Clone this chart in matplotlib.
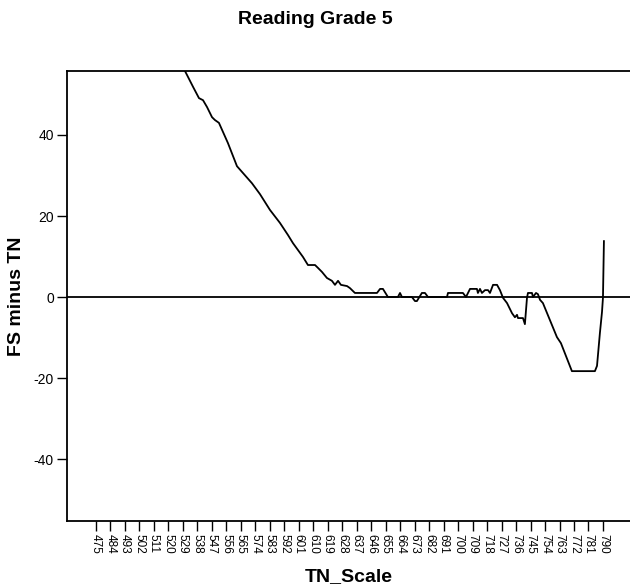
import matplotlib
matplotlib.use("Agg")
import matplotlib.pyplot as plt
import numpy as np

plt.rcParams['font.family'] = ['Liberation Sans', 'DejaVu Sans']

# Data
tn_scale = [528.0, 530.3, 535.3, 539.0, 541.5, 544.0, 547.1, 548.9, 551.4, 557.0, 562.6,
            565.7, 571.9, 576.9, 583.1, 589.3, 594.3, 597.4, 603.6, 606.7, 611.1,
            612.9, 615.4, 618.5, 621.6, 623.5, 625.4, 627.2, 631.0, 632.8, 635.9,
            649.6, 651.5, 653.3, 656.4, 662.6, 663.9, 665.1, 671.3, 673.2, 674.4,
            677.5, 679.4, 681.3, 693.1, 693.7, 703.0, 704.9, 707.4, 711.7, 712.3,
            713.6, 714.8, 716.7, 718.6, 719.8, 721.7, 724.2, 726.0, 727.9, 730.4,
            733.5, 735.3, 736.6, 737.2, 740.3, 741.5, 742.8, 743.4, 745.9, 746.5,
            748.4, 749.6, 750.9, 752.7, 761.4, 763.9, 770.7, 785.0, 786.3, 788.1,
            789.4, 790.0, 790.6]
fs_minus_tn = [60.0, 55.8, 51.9, 49.1, 48.6, 46.9, 44.4, 43.7, 43.0, 38.0, 32.3,
               30.9, 28.1, 25.4, 21.5, 18.3, 15.3, 13.3, 9.9, 7.9, 7.9,
               7.2, 6.2, 4.7, 4.0, 3.0, 4.0, 3.0, 2.7, 2.2, 1.0,
               1.0, 2.0, 2.0, 0.0, 0.0, 1.0, 0.0, 0.0, -1.0, -1.0,
               1.0, 1.0, 0.0, 0.0, 1.0, 1.0, 0.0, 2.0, 2.0, 1.0,
               2.0, 1.0, 1.7, 1.7, 1.0, 3.0, 3.0, 1.7, -0.2, -1.5,
               -4.0, -5.0, -4.4, -5.2, -5.2, -6.7, -0.2, 1.0, 1.0, 0.0,
               1.0, 0.7, -0.7, -1.5, -9.9, -11.4, -18.3, -18.3, -17.0, -8.9,
               -3.7, -0.2, 13.8]
x_ticks = list(range(475, 791, 9))
y_ticks = [-40, -20, 0, 20, 40]

W, H = 630, 587
fig = plt.figure(figsize=(W / 100, H / 100), dpi=100)
ax = fig.add_axes([67 / W, 1 - 521 / H, 1 - 67 / W, (521 - 71) / H])

ax.plot(tn_scale, fs_minus_tn, color='black', linewidth=1.3)
ax.axhline(0, color='black', linewidth=1.3)

ax.set_xlim(457, 806.8)
ax.set_ylim(-55.3, 55.8)

ax.set_xticks(x_ticks)
ax.set_xticklabels([str(v) for v in x_ticks], rotation=-90, fontsize=8.5)
ax.set_yticks(y_ticks)
ax.set_yticklabels([str(v) for v in y_ticks], fontsize=10)
ax.tick_params(axis='both', length=7, width=1.0, color='black', pad=2.5)

for s in ['left', 'top', 'bottom']:
    ax.spines[s].set_linewidth(1.3)
ax.spines['right'].set_visible(False)

ax.set_xlabel('TN_Scale', fontsize=14, fontweight='bold', labelpad=10)
ax.set_ylabel('FS minus TN', fontsize=14, fontweight='bold', labelpad=6)
fig.text(0.5, 1 - 19 / H, 'Reading Grade 5', ha='center', va='center',
         fontsize=14, fontweight='bold')

fig.savefig('out.png', dpi=100)
